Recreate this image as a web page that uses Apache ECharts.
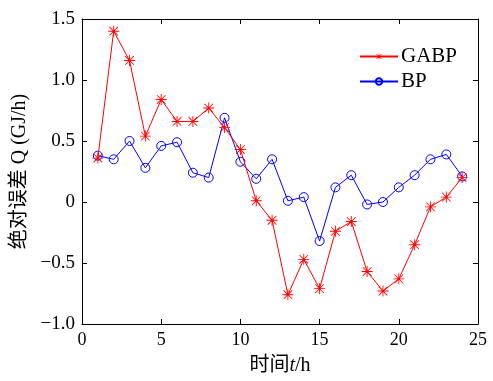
<!DOCTYPE html>
<html>
<head>
<meta charset="utf-8">
<style>
  html, body { margin: 0; padding: 0; background: #fff; }
  #chart { width: 493px; height: 381px; }
</style>
<script src="https://cdn.jsdelivr.net/npm/echarts@6/dist/echarts.min.js"></script>
</head>
<body>
<div id="chart"></div>
<script>
// Hourly absolute error of the two models
const hours = [1, 2, 3, 4, 5, 6, 7, 8, 9, 10, 11, 12, 13, 14, 15, 16, 17, 18, 19, 20, 21, 22, 23, 24];
const gabpError = [0.36, 1.40, 1.16, 0.54, 0.84, 0.66, 0.66, 0.77, 0.61, 0.43, 0.01, -0.15, -0.76, -0.47, -0.71, -0.24, -0.16, -0.57, -0.73, -0.63, -0.35, -0.04, 0.04, 0.20];
const bpError = [0.38, 0.35, 0.50, 0.28, 0.46, 0.49, 0.24, 0.20, 0.69, 0.33, 0.19, 0.35, 0.01, 0.04, -0.32, 0.12, 0.22, -0.02, 0.00, 0.12, 0.22, 0.35, 0.39, 0.21];
const seriesNames = ['GABP', 'BP'];
const xTicks = [0, 5, 10, 15, 20, 25];
const yTicks = [-1.0, -0.5, 0, 0.5, 1.0, 1.5];

const serif = '"Liberation Serif", "Times New Roman", serif';
const cjk = '"Liberation Serif", "Noto Sans CJK SC", serif';

// asterisk marker built from four thin bars
const asterisk = 'path://M9.2,0L10.8,0L10.8,20L9.2,20Z M0,9.2L20,9.2L20,10.8L0,10.8Z ' +
  'M1.6,2.7L2.7,1.6L18.4,17.3L17.3,18.4Z M17.3,1.6L18.4,2.7L2.7,18.4L1.6,17.3Z';

function yLabel(v) {
  if (Math.abs(v) < 1e-9) return '0';
  return (v < 0 ? '\u2212' : '') + Math.abs(v).toFixed(1);
}

const frameAxis = {
  axisLine: { show: true, onZero: false, lineStyle: { color: '#000', width: 1 } },
  axisTick: { show: true, inside: true, length: 5, lineStyle: { color: '#000', width: 1 } },
  splitLine: { show: false }
};

const chart = echarts.init(document.getElementById('chart'), null, { renderer: 'canvas' });
chart.setOption({
  animation: false,
  backgroundColor: '#fff',
  grid: { left: 82, right: 15, top: 19, bottom: 53, containLabel: false },
  legend: {
    left: 354, top: 41, orient: 'vertical',
    itemWidth: 38, itemHeight: 8, itemGap: 4,
    textStyle: { fontFamily: serif, fontSize: 21, color: '#000', padding: [0, 0, 0, -2] },
    data: seriesNames
  },
  xAxis: [
    Object.assign({
      type: 'value', min: xTicks[0], max: xTicks[xTicks.length - 1], interval: 5,
      position: 'bottom',
      axisLabel: { fontFamily: serif, fontSize: 18, color: '#000', margin: 7 },
      name: '时间{it|t}/h', nameLocation: 'middle', nameGap: 32,
      nameTextStyle: {
        fontFamily: cjk, fontSize: 20, color: '#000',
        rich: { it: { fontFamily: serif, fontStyle: 'italic', fontSize: 20, color: '#000' } }
      }
    }, frameAxis),
    Object.assign({
      type: 'value', min: xTicks[0], max: xTicks[xTicks.length - 1], interval: 5,
      position: 'top', axisLabel: { show: false }
    }, frameAxis)
  ],
  yAxis: [
    Object.assign({
      type: 'value', min: yTicks[0], max: yTicks[yTicks.length - 1], interval: 0.5,
      position: 'left',
      axisLabel: { fontFamily: serif, fontSize: 19, color: '#000', margin: 7, formatter: yLabel },
      name: '绝对误差 Q (GJ/h)', nameLocation: 'middle', nameGap: 48, nameRotate: 90,
      nameTextStyle: { fontFamily: cjk, fontSize: 20, color: '#000' }
    }, frameAxis),
    Object.assign({
      type: 'value', min: yTicks[0], max: yTicks[yTicks.length - 1], interval: 0.5,
      position: 'right', axisLabel: { show: false }
    }, frameAxis)
  ],
  series: [
    {
      name: seriesNames[0], type: 'line',
      data: hours.map((h, i) => [h, gabpError[i]]),
      symbol: asterisk, symbolSize: 11, showAllSymbol: true,
      lineStyle: { color: '#ff0000', width: 1 },
      itemStyle: { color: '#ff0000', borderWidth: 0 },
      z: 3
    },
    {
      name: seriesNames[1], type: 'line',
      data: hours.map((h, i) => [h, bpError[i]]),
      symbol: 'circle', symbolSize: 9, showAllSymbol: true,
      lineStyle: { color: '#0000ff', width: 1 },
      itemStyle: { color: 'rgba(255,255,255,0)', borderColor: '#0000ff', borderWidth: 1 },
      z: 2
    }
  ]
});
</script>
</body>
</html>
